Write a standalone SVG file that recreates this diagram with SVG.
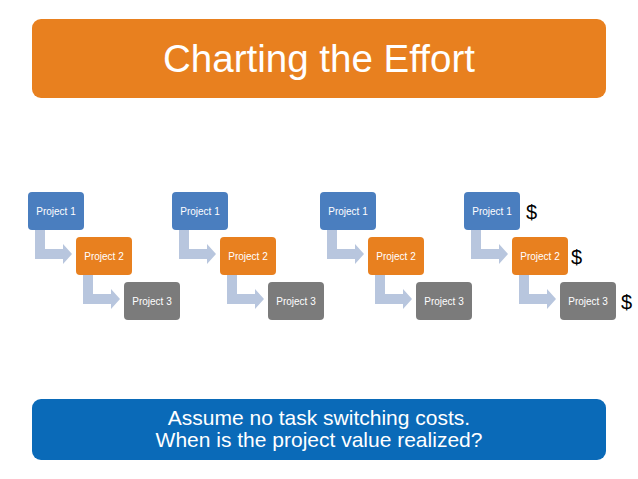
<svg xmlns="http://www.w3.org/2000/svg" width="638" height="479" viewBox="0 0 638 479">
<defs>
<style>
.bx{stroke:none}
.p1{fill:#4A7EBF}
.p2{fill:#E8801F}
.p3{fill:#7B7B7B}
.lbl{font-family:"Liberation Sans",Arial,sans-serif;font-size:10px;fill:#FFFFFF;text-anchor:middle}
.arr{fill:#B8C6DE}
.dol{font-family:"Liberation Sans",Arial,sans-serif;font-size:20px;fill:#000000}
.big{font-family:"Liberation Sans",Arial,sans-serif;fill:#FFFFFF;text-anchor:middle}
</style>
<path id="elbow" d="M0,0 H10 V19 H28 V14 L37,24 L28,34 V29 H0 Z"/>
</defs>
<rect width="638" height="479" fill="#FFFFFF"/>
<g id="title">
<rect x="32" y="19" width="574" height="79" rx="9" fill="#E8801F"/>
<text class="big" x="319" y="72" font-size="38" textLength="312" lengthAdjust="spacingAndGlyphs">Charting the Effort</text>
</g>
<g id="connectors">
<use href="#elbow" class="arr" x="35" y="230"/>
<use href="#elbow" class="arr" x="83" y="275"/>
<use href="#elbow" class="arr" x="179" y="230"/>
<use href="#elbow" class="arr" x="227" y="275"/>
<use href="#elbow" class="arr" x="327" y="230"/>
<use href="#elbow" class="arr" x="375" y="275"/>
<use href="#elbow" class="arr" x="471" y="230"/>
<use href="#elbow" class="arr" x="519" y="275"/>
</g>
<g id="g1p1"><rect class="p1" x="28" y="192" width="56" height="38" rx="4"/><text class="lbl" x="56" y="215">Project 1</text></g>
<g id="g1p2"><rect class="p2" x="76" y="237" width="56" height="38" rx="4"/><text class="lbl" x="104" y="260">Project 2</text></g>
<g id="g1p3"><rect class="p3" x="124" y="282" width="56" height="38" rx="4"/><text class="lbl" x="152" y="305">Project 3</text></g>
<g id="g2p1"><rect class="p1" x="172" y="192" width="56" height="38" rx="4"/><text class="lbl" x="200" y="215">Project 1</text></g>
<g id="g2p2"><rect class="p2" x="220" y="237" width="56" height="38" rx="4"/><text class="lbl" x="248" y="260">Project 2</text></g>
<g id="g2p3"><rect class="p3" x="268" y="282" width="56" height="38" rx="4"/><text class="lbl" x="296" y="305">Project 3</text></g>
<g id="g3p1"><rect class="p1" x="320" y="192" width="56" height="38" rx="4"/><text class="lbl" x="348" y="215">Project 1</text></g>
<g id="g3p2"><rect class="p2" x="368" y="237" width="56" height="38" rx="4"/><text class="lbl" x="396" y="260">Project 2</text></g>
<g id="g3p3"><rect class="p3" x="416" y="282" width="56" height="38" rx="4"/><text class="lbl" x="444" y="305">Project 3</text></g>
<g id="g4p1"><rect class="p1" x="464" y="192" width="56" height="38" rx="4"/><text class="lbl" x="492" y="215">Project 1</text></g>
<g id="g4p2"><rect class="p2" x="512" y="237" width="56" height="38" rx="4"/><text class="lbl" x="540" y="260">Project 2</text></g>
<g id="g4p3"><rect class="p3" x="560" y="282" width="56" height="38" rx="4"/><text class="lbl" x="588" y="305">Project 3</text></g>
<g id="dollars">
<text class="dol" x="526" y="219">$</text>
<text class="dol" x="571" y="264">$</text>
<text class="dol" x="621" y="309">$</text>
</g>
<g id="question">
<rect x="32" y="399" width="574" height="61" rx="9" fill="#0A6AB8"/>
<text class="big" x="319" y="425" font-size="21">Assume no task switching costs.</text>
<text class="big" x="319" y="447" font-size="21">When is the project value realized?</text>
</g>
</svg>
